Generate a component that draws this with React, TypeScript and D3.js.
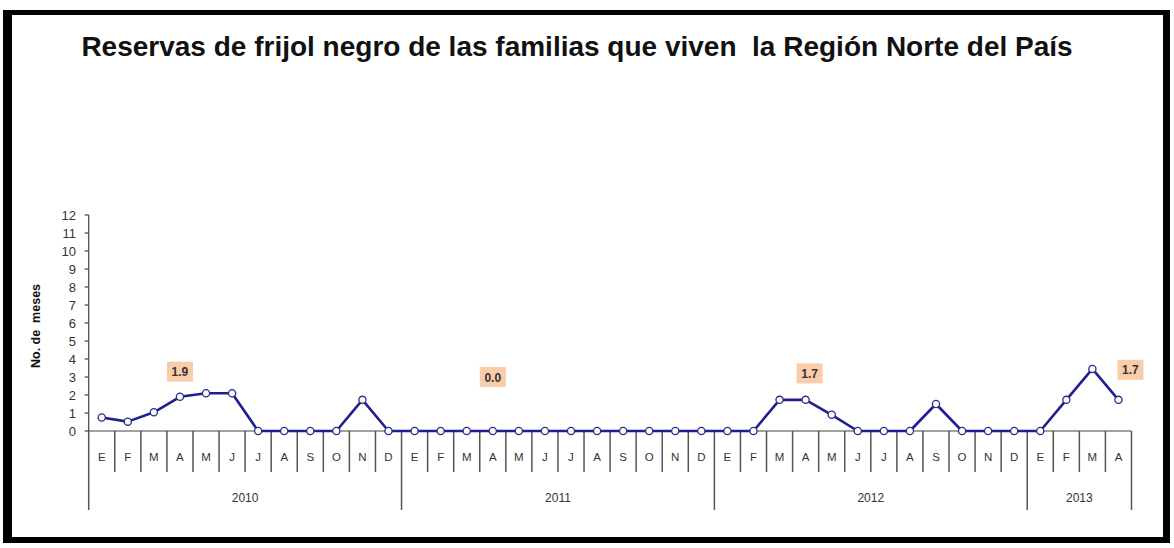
import React from "react";
import * as d3 from "d3";

const months2010 = ["E", "F", "M", "A", "M", "J", "J", "A", "S", "O", "N", "D"];
const months2011 = ["E", "F", "M", "A", "M", "J", "J", "A", "S", "O", "N", "D"];
const months2012 = ["E", "F", "M", "A", "M", "J", "J", "A", "S", "O", "N", "D"];
const months2013 = ["E", "F", "M", "A"];
const years = ["2010", "2011", "2012", "2013"];

const values2010 = [0.75, 0.52, 1.04, 1.9, 2.1, 2.1, 0, 0, 0, 0, 1.73, 0];
const values2011 = [0, 0, 0, 0, 0, 0, 0, 0, 0, 0, 0, 0];
const values2012 = [0, 0, 1.73, 1.73, 0.9, 0, 0, 0, 1.5, 0, 0, 0];
const values2013 = [0, 1.73, 3.45, 1.73];

const yTicks = [0, 1, 2, 3, 4, 5, 6, 7, 8, 9, 10, 11, 12];

const annotations = [
  { year: "2010", month: 3, text: "1.9", value: 3.3, dx: 0 },
  { year: "2011", month: 3, text: "0.0", value: 3.0, dx: 0 },
  { year: "2012", month: 3, text: "1.7", value: 3.2, dx: 4 },
  { year: "2013", month: 3, text: "1.7", value: 3.4, dx: 12 },
];

const title = "Reservas de frijol negro de las familias que viven  la Región Norte del País";

export default function App() {
  const W = 1174;
  const H = 548;
  const left = 88.7;
  const right = 1131.5;
  const yTop = 215;
  const yBottom = 431;

  const groups = [
    { year: years[0], months: months2010, values: values2010 },
    { year: years[1], months: months2011, values: values2011 },
    { year: years[2], months: months2012, values: values2012 },
    { year: years[3], months: months2013, values: values2013 },
  ];
  const cats: { key: string; month: string; year: string; value: number; idx: number }[] = [];
  groups.forEach((g) =>
    g.months.forEach((m, i) =>
      cats.push({ key: g.year + "-" + i, month: m, year: g.year, value: g.values[i], idx: i })
    )
  );

  const x = d3.scaleBand<string>().domain(cats.map((c) => c.key)).range([left, right]).padding(0);
  const y = d3.scaleLinear().domain([0, 12]).range([yBottom, yTop]);
  const bw = x.bandwidth();
  const cx = (k: string) => (x(k) as number) + bw / 2;

  const line = d3
    .line<(typeof cats)[0]>()
    .x((d) => cx(d.key))
    .y((d) => y(d.value));

  const font = "'Liberation Sans', Arial, sans-serif";

  return (
    <svg
      width={W}
      height={H}
      style={{ position: "absolute", left: 0, top: 0, background: "#fff" }}
      fontFamily={font}
    >
      <rect x={0} y={0} width={W} height={H} fill="#fff" />
      {/* frame */}
      <line x1={7.5} x2={7.5} y1={10} y2={543} stroke="#000" strokeWidth={9} />
      <line x1={3} x2={1170} y1={12.5} y2={12.5} stroke="#000" strokeWidth={5} />
      <line x1={1166.5} x2={1166.5} y1={10} y2={543} stroke="#000" strokeWidth={7} />
      <line x1={3} x2={1170} y1={540} y2={540} stroke="#000" strokeWidth={6} />

      <text
        x={577}
        y={56}
        textAnchor="middle"
        fontSize={28}
        fontWeight="bold"
        fill="#111"
        fontFamily={font}
        style={{ whiteSpace: "pre" }}
      >
        {title}
      </text>

      {/* y axis label */}
      <text
        transform={`translate(40,${326}) rotate(-90)`}
        textAnchor="middle"
        fontSize={12.5}
        fontWeight="bold"
        fill="#111"
        style={{ whiteSpace: "pre" }}
      >
        {"No. de  meses"}
      </text>

      {/* y axis */}
      <line x1={left} x2={left} y1={yTop} y2={yBottom} stroke="#444" strokeWidth={1.2} />
      {yTicks.map((t) => (
        <g key={t}>
          <line x1={left - 4} x2={left} y1={y(t)} y2={y(t)} stroke="#444" strokeWidth={1.2} />
          <text x={76} y={y(t) + 4.5} textAnchor="end" fontSize={13} fill="#333">
            {t}
          </text>
        </g>
      ))}

      {/* x axis */}
      <line x1={left} x2={right} y1={yBottom} y2={yBottom} stroke="#444" strokeWidth={1.2} />
      {cats.map((c) => {
        const x0 = x(c.key) as number;
        const isYearStart = c.idx === 0;
        return (
          <g key={c.key}>
            <line
              x1={x0}
              x2={x0}
              y1={yBottom}
              y2={isYearStart ? 510 : 472}
              stroke="#555"
              strokeWidth={1.5}
            />
            <text x={cx(c.key)} y={461} textAnchor="middle" fontSize={11.5} fill="#333">
              {c.month}
            </text>
          </g>
        );
      })}
      <line x1={right} x2={right} y1={yBottom} y2={510} stroke="#555" strokeWidth={1.5} />
      {groups.map((g) => {
        const first = cats.find((c) => c.year === g.year && c.idx === 0)!;
        const lastIdx = g.months.length - 1;
        const last = cats.find((c) => c.year === g.year && c.idx === lastIdx)!;
        const mid = ((x(first.key) as number) + (x(last.key) as number) + bw) / 2;
        return (
          <text key={g.year} x={mid} y={502} textAnchor="middle" fontSize={12} fill="#333">
            {g.year}
          </text>
        );
      })}

      {/* line */}
      <path d={line(cats) || ""} fill="none" stroke="#1f1f8f" strokeWidth={2.6} strokeLinejoin="round" />
      {cats.map((c) => (
        <circle key={c.key} cx={cx(c.key)} cy={y(c.value)} r={3.6} fill="#fdfde8" stroke="#2a2a9a" strokeWidth={1.3} />
      ))}

      {/* annotations */}
      {annotations.map((a) => {
        const c = cats.find((d) => d.year === a.year && d.idx === a.month)!;
        const px = cx(c.key) + a.dx;
        const py = y(a.value);
        return (
          <g key={a.year}>
            <rect x={px - 13} y={py - 10} width={26} height={20} fill="#f9ccaa" />
            <text x={px} y={py + 4.5} textAnchor="middle" fontSize={12} fontWeight="bold" fill="#333">
              {a.text}
            </text>
          </g>
        );
      })}
    </svg>
  );
}
